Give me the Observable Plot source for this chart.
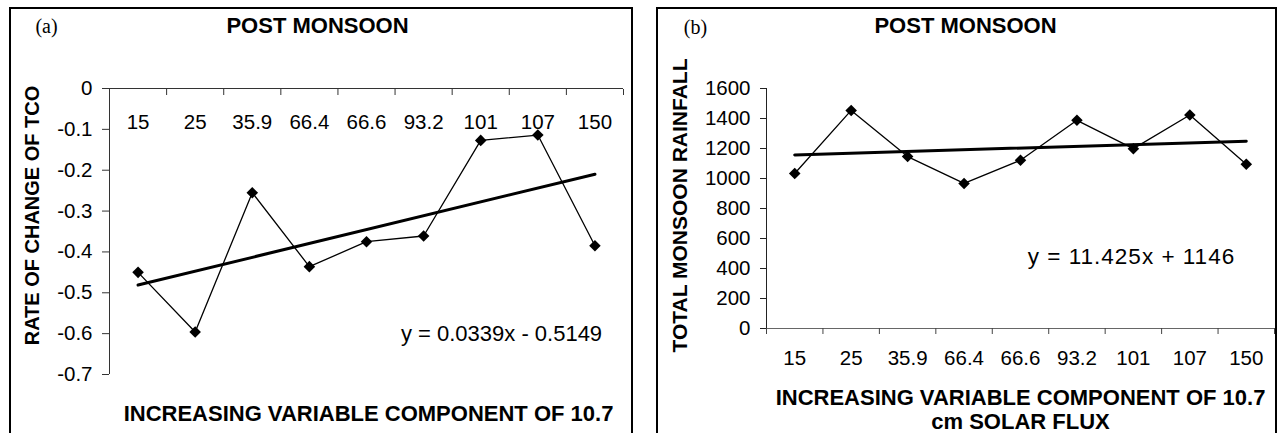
<!DOCTYPE html>
<html><head><meta charset="utf-8">
<script src="https://cdn.jsdelivr.net/npm/d3@7"></script>
<script src="https://cdn.jsdelivr.net/npm/@observablehq/plot@0.6"></script>
<style>
html,body{margin:0;padding:0;background:#fff;}
#root{position:relative;width:1277px;height:433px;overflow:hidden;background:#fff;}
.panel{position:absolute;top:0;}
.frame{position:absolute;border:2px solid #000;box-sizing:border-box;z-index:5;pointer-events:none;}
</style></head><body><div id="root"></div>
<script>
// ---- data ----
const categories = ["15", "25", "35.9", "66.4", "66.6", "93.2", "101", "107", "150"];
const tcoRate = [-0.450, -0.596, -0.255, -0.436, -0.375, -0.361, -0.127, -0.114, -0.385];
const rainfall = [1033, 1454, 1146, 967, 1122, 1388, 1199, 1423, 1095];
const tcoTicks = [0, -0.1, -0.2, -0.3, -0.4, -0.5, -0.6, -0.7];
const tcoTickLabels = ["0", "-0.1", "-0.2", "-0.3", "-0.4", "-0.5", "-0.6", "-0.7"];
const rainTicks = [0, 200, 400, 600, 800, 1000, 1200, 1400, 1600];
const trendA = [0.0339, -0.5149];   // slope, intercept (Excel x = 1..9)
const trendB = [11.425, 1146];
const eqA = "y = 0.0339x - 0.5149";
const eqB = "y = 11.425x + 1146";
const titleText = "POST MONSOON";
const yTitleA = "RATE OF CHANGE OF TCO";
const yTitleB = "TOTAL MONSOON RAINFALL";
const xTitleA = "INCREASING VARIABLE COMPONENT OF 10.7";
const xTitleB = "INCREASING VARIABLE COMPONENT OF 10.7\ncm SOLAR FLUX";

// ---- derived tables ----
const rowsA = categories.map((c, i) => ({pos: i + 0.5, v: tcoRate[i]}));
const rowsB = categories.map((c, i) => ({pos: i + 0.5, v: rainfall[i]}));
const trendRows = (t) => [1, categories.length].map(k => ({pos: k - 0.5, v: t[0] * k + t[1]}));
const boundaries = d3.range(categories.length + 1);
const centers = categories.map((c, i) => i + 0.5);
const catLabel = d => categories[Math.round(d - 0.5)];

const FONT = "'Liberation Sans', Arial, sans-serif";
const baseStyle = {fontFamily: FONT, fontSize: "20px", color: "#000", background: "transparent", overflow: "visible", maxWidth: "none"};
const bold = {fontWeight: "bold", fill: "#000", textAnchor: "middle", lineAnchor: "middle"};
const serif = {fontFamily: "'Liberation Serif', 'Times New Roman', serif", fontSize: 20, fill: "#000", textAnchor: "middle", lineAnchor: "middle"};

const root = document.getElementById("root");

// ---- panel (a) ----
const plotA = Plot.plot({
  width: 640, height: 433,
  marginLeft: 109, marginRight: 17, marginTop: 88, marginBottom: 59,
  style: baseStyle,
  x: {type: "linear", domain: [0, categories.length], axis: null},
  y: {domain: [-0.7, 0], axis: null},
  marks: [
    Plot.ruleY([0], {stroke: "#333", strokeWidth: 1}),
    Plot.ruleX([0], {stroke: "#333", strokeWidth: 1}),
    Plot.axisX(boundaries, {anchor: "top", tickSize: -6, tickFormat: () => "", label: null, stroke: "#333"}),
    Plot.axisX(centers, {anchor: "top", tickSize: 0, tickPadding: -34, lineAnchor: "middle", tickFormat: catLabel, label: null, fontSize: 20.5}),
    Plot.axisY(tcoTicks, {anchor: "left", tickSize: 7, tickPadding: 10, tickFormat: d => tcoTickLabels[tcoTicks.indexOf(d)], label: null, stroke: "#333", fontSize: 20.5}),
    Plot.line(trendRows(trendA), {x: "pos", y: "v", stroke: "#000", strokeWidth: 3}),
    Plot.line(rowsA, {x: "pos", y: "v", stroke: "#000", strokeWidth: 1.3}),
    Plot.dot(rowsA, {x: "pos", y: "v", symbol: "diamond2", r: 5.2, fill: "#000", stroke: "none"}),
    Plot.text([titleText], {frameAnchor: "top", dx: -49, dy: -63, fontSize: 22, ...bold}),
    Plot.text(["(a)"], {frameAnchor: "top-left", dx: -63, dy: -62, ...serif}),
    Plot.text([yTitleA], {frameAnchor: "left", dx: -77, dy: -16, rotate: -90, fontSize: 20, ...bold}),
    Plot.text([xTitleA], {frameAnchor: "bottom", dx: 2, dy: 39, fontSize: 22, ...bold}),
    Plot.text([eqA], {frameAnchor: "middle", dx: 135, dy: 102, fontSize: 22, fill: "#000", textAnchor: "middle", lineAnchor: "middle"})
  ]
});
const wrapA = document.createElement("div");
wrapA.className = "panel"; wrapA.style.left = "0px"; wrapA.style.width = "640px";
wrapA.appendChild(plotA);
root.appendChild(wrapA);

// ---- panel (b) ----
const plotB = Plot.plot({
  width: 637, height: 433,
  marginLeft: 126, marginRight: 3, marginTop: 88, marginBottom: 105,
  style: baseStyle,
  x: {type: "linear", domain: [0, categories.length], axis: null},
  y: {domain: [0, 1600], axis: null},
  marks: [
    Plot.ruleY([0], {stroke: "#666", strokeWidth: 1}),
    Plot.ruleX([0], {stroke: "#222", strokeWidth: 1}),
    Plot.axisX(boundaries, {anchor: "bottom", tickSize: 6, tickFormat: () => "", label: null, stroke: "#444"}),
    Plot.axisX(centers, {anchor: "bottom", tickSize: 0, tickPadding: 30, lineAnchor: "middle", tickFormat: catLabel, label: null, fontSize: 20.5}),
    Plot.axisY(rainTicks, {anchor: "left", tickSize: 6, tickPadding: 10, tickFormat: d => String(d), label: null, stroke: "#222", fontSize: 20.5}),
    Plot.line(trendRows(trendB), {x: "pos", y: "v", stroke: "#000", strokeWidth: 3}),
    Plot.line(rowsB, {x: "pos", y: "v", stroke: "#000", strokeWidth: 1.3}),
    Plot.dot(rowsB, {x: "pos", y: "v", symbol: "diamond2", r: 5.2, fill: "#000", stroke: "none"}),
    Plot.text([titleText], {frameAnchor: "top", dx: -55, dy: -63, fontSize: 22, ...bold}),
    Plot.text(["(b)"], {frameAnchor: "top-left", dx: -71, dy: -61, ...serif}),
    Plot.text([yTitleB], {frameAnchor: "left", dx: -86, dy: -3, rotate: -90, fontSize: 21, ...bold}),
    Plot.text([xTitleB], {frameAnchor: "bottom", dx: 0, dy: 81, fontSize: 22, lineHeight: 1.1, ...bold}),
    Plot.text([eqB], {frameAnchor: "middle", dx: 111, dy: 48, fontSize: 22.5, fill: "#000", textAnchor: "middle", lineAnchor: "middle"})
  ]
});
const wrapB = document.createElement("div");
wrapB.className = "panel"; wrapB.style.left = "640px"; wrapB.style.width = "637px";
wrapB.appendChild(plotB);
root.appendChild(wrapB);

// slightly wider spacing for the equation text, as in the original
d3.selectAll("text").filter(function() { return this.textContent === eqB; }).style("letter-spacing", "1px");

// ---- panel frames ----
function frame(left, width) {
  const f = document.createElement("div");
  f.className = "frame";
  f.style.left = left + "px"; f.style.top = "7px";
  f.style.width = width + "px"; f.style.height = "500px";
  root.appendChild(f);
}
frame(9, 624);
frame(656, 621);
</script>
</body></html>
